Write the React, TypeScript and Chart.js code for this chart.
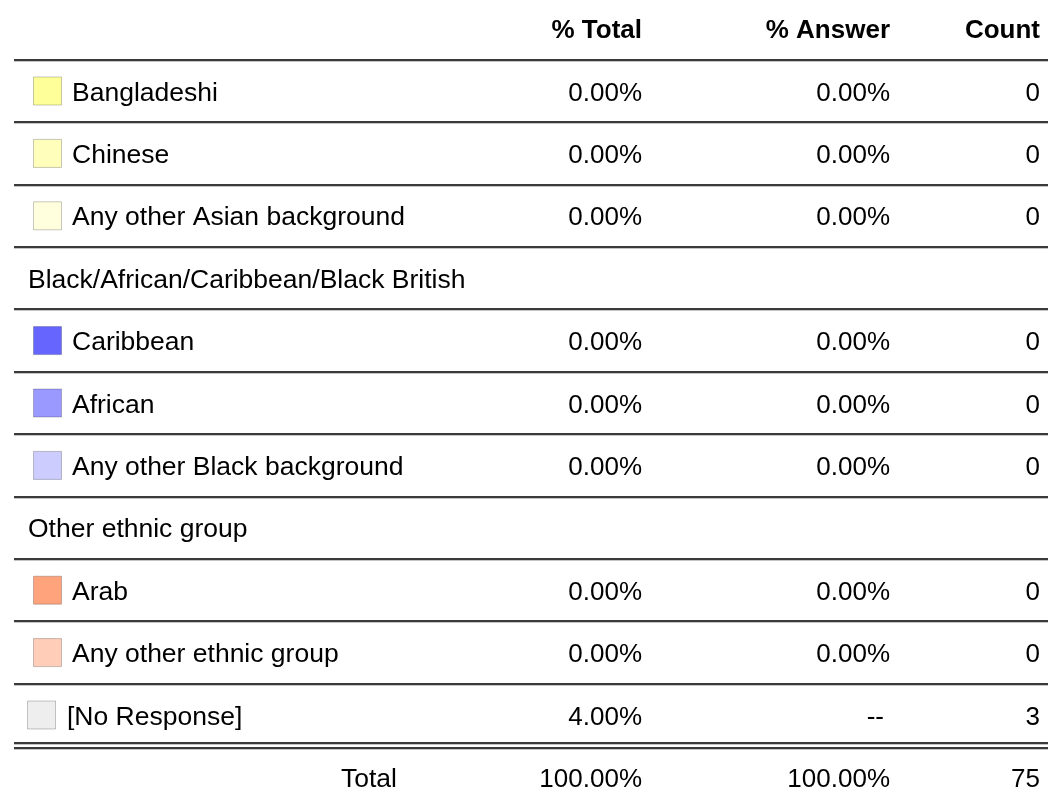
import React, { useEffect, useRef } from "react";
import { Chart, registerables } from "chart.js";

Chart.register(...registerables);

const columnHeaders = ["% Total", "% Answer", "Count"];
const rowLabels = [
  "Bangladeshi",
  "Chinese",
  "Any other Asian background",
  "Black/African/Caribbean/Black British",
  "Caribbean",
  "African",
  "Any other Black background",
  "Other ethnic group",
  "Arab",
  "Any other ethnic group",
  "[No Response]",
];
const rowKinds = ["item", "item", "item", "section", "item", "item", "item", "section", "item", "item", "noresp"];
const swatchColors = [
  "#FFFF99", "#FFFFBB", "#FFFFDD", null,
  "#6666FF", "#9999FF", "#CCCCFF", null,
  "#FFA37C", "#FFCDB8", "#EEEEEE",
];
const pctTotal: (number | null)[] = [0, 0, 0, null, 0, 0, 0, null, 0, 0, 4];
const pctAnswer: (number | null)[] = [0, 0, 0, null, 0, 0, 0, null, 0, 0, null];
const counts: (number | null)[] = [0, 0, 0, null, 0, 0, 0, null, 0, 0, 3];
const totalLabel = "Total";
const totalPctTotal = 100;
const totalPctAnswer = 100;
const totalCount = 75;

const W = 1048;
const H = 792;
const ROW_PITCH = 62.4;
const FIRST_ROW = 91;
const FONT = "'Liberation Sans', Arial, Helvetica, sans-serif";
const FS = 26;
const FS_LABEL = 26.5;
const COL_RIGHT = [642, 890, 1040];
const SW_RADIUS = 19.8;
const SW_BORDER = 1;
const PAD = SW_RADIUS + SW_BORDER; // chart area inset Chart.js adds for point overflow

export default function App() {
  const ref = useRef<HTMLCanvasElement | null>(null);

  useEffect(() => {
    if (!ref.current) return;
    const points: { x: number; y: number }[] = [];
    const colors: string[] = [];
    rowLabels.forEach((_, i) => {
      const c = swatchColors[i];
      if (c) {
        points.push({ x: rowKinds[i] === "noresp" ? 41.5 : 47.5, y: i });
        colors.push(c);
      }
    });

    const tablePlugin = {
      id: "tablePlugin",
      beforeDatasetsDraw(chart: any) {
        const ctx = chart.ctx;
        const ys = chart.scales.y;
        ctx.save();
        const drawLine = (y: number) => {
          ctx.fillStyle = "#3a3a3a";
          ctx.fillRect(14, y - 1, W - 14, 2);
          ctx.fillStyle = "#c4c4c4";
          ctx.fillRect(14, y + 1, W - 14, 1);
        };
        for (let i = -1; i < rowLabels.length - 1; i++) {
          drawLine(Math.round(ys.getPixelForValue(i + 0.5)));
        }
        const dy = Math.round(ys.getPixelForValue(rowLabels.length - 0.5));
        drawLine(dy - 3);
        drawLine(dy + 2);
        ctx.restore();
      },
      afterDatasetsDraw(chart: any) {
        const ctx = chart.ctx;
        const ys = chart.scales.y;
        ctx.save();
        ctx.fillStyle = "#000";
        ctx.textBaseline = "alphabetic";
        const base = (v: number) => ys.getPixelForValue(v) + 9.5;
        ctx.font = `bold ${FS}px ${FONT}`;
        ctx.textAlign = "right";
        columnHeaders.forEach((h, c) => ctx.fillText(h, COL_RIGHT[c], base(-1)));
        rowLabels.forEach((label, i) => {
          const k = rowKinds[i];
          const y = base(i);
          ctx.font = `${FS_LABEL}px ${FONT}`;
          ctx.textAlign = "left";
          const lx = k === "section" ? 28 : k === "noresp" ? 67 : 72;
          ctx.fillText(label, lx, y);
          if (k === "section") return;
          ctx.font = `${FS}px ${FONT}`;
          ctx.textAlign = "right";
          const t = pctTotal[i];
          const a = pctAnswer[i];
          const n = counts[i];
          ctx.fillText(t == null ? "--" : t.toFixed(2) + "%", COL_RIGHT[0], y);
          ctx.fillText(a == null ? "--" : a.toFixed(2) + "%", COL_RIGHT[1] - (a == null ? 6 : 0), y);
          ctx.fillText(n == null ? "--" : String(n), COL_RIGHT[2], y);
        });
        const ty = base(rowLabels.length);
        ctx.textAlign = "right";
        ctx.font = `${FS_LABEL}px ${FONT}`;
        ctx.fillText(totalLabel, 397, ty);
        ctx.font = `${FS}px ${FONT}`;
        ctx.fillText(totalPctTotal.toFixed(2) + "%", COL_RIGHT[0], ty);
        ctx.fillText(totalPctAnswer.toFixed(2) + "%", COL_RIGHT[1], ty);
        ctx.fillText(String(totalCount), COL_RIGHT[2], ty);
        ctx.restore();
      },
    };

    const chart = new Chart(ref.current, {
      type: "scatter",
      data: {
        datasets: [
          {
            data: points,
            pointStyle: "rect",
            pointRadius: SW_RADIUS,
            pointHoverRadius: SW_RADIUS,
            backgroundColor: colors,
            borderColor: "rgba(0,0,0,0.22)",
            borderWidth: SW_BORDER,
          },
        ],
      },
      options: {
        responsive: false,
        animation: false,
        events: [],
        layout: { padding: 0 },
        plugins: { legend: { display: false }, tooltip: { enabled: false } },
        scales: {
          x: { type: "linear", display: false, min: PAD, max: W - PAD },
          y: {
            type: "linear",
            display: false,
            reverse: true,
            min: (PAD - FIRST_ROW) / ROW_PITCH,
            max: (H - PAD - FIRST_ROW) / ROW_PITCH,
          },
        },
      },
      plugins: [tablePlugin],
    });
    return () => chart.destroy();
  }, []);

  return (
    <div style={{ position: "absolute", left: 0, top: 0, width: W, height: H, background: "#fff" }}>
      <canvas ref={ref} width={W} height={H} style={{ display: "block" }} />
    </div>
  );
}
